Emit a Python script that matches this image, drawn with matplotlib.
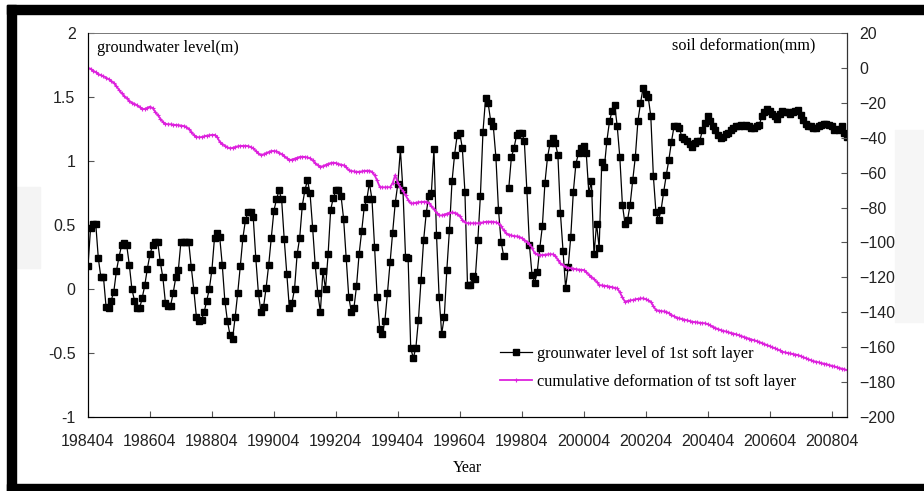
import numpy as np
import matplotlib.pyplot as plt
from matplotlib.patches import Rectangle

# monthly groundwater level (m), 198404 .. 200810, one nan where a month is missing
groundwater = [
	0.18, 0.48, 0.51, 0.51, 0.24, 0.09, 0.09, -0.14, -0.15, -0.09, -0.02, 0.14,
	0.25, 0.34, 0.36, 0.34, 0.19, 0.00, -0.09, -0.15, -0.15, -0.07, 0.03, 0.16,
	0.27, 0.34, 0.37, 0.37, 0.21, 0.09, -0.11, -0.13, -0.13, -0.03, 0.09, 0.15,
	0.37, 0.37, 0.37, 0.37, 0.17, -0.01, -0.22, -0.25, -0.24, -0.18, -0.09, 0.00,
	0.15, 0.40, 0.44, 0.41, 0.19, -0.09, -0.25, -0.36, -0.39, -0.22, -0.03, 0.18,
	0.40, 0.54, 0.60, 0.60, 0.56, 0.24, -0.03, -0.18, -0.14, 0.01, 0.19, 0.40,
	0.61, 0.70, 0.77, 0.70, 0.39, 0.12, -0.15, -0.11, 0.00, 0.27, 0.40, 0.65,
	0.77, 0.85, 0.75, 0.48, 0.19, -0.03, -0.18, 0.14, 0.00, 0.27, 0.62, 0.71,
	0.77, 0.77, 0.73, 0.55, 0.24, -0.06, -0.18, -0.15, 0.02, 0.27, 0.45, 0.64,
	0.70, 0.83, 0.70, 0.33, -0.06, -0.31, -0.35, -0.25, -0.03, 0.21, 0.44, 0.67,
	0.82, 1.09, 0.77, 0.25, 0.24, -0.46, -0.54, -0.46, -0.24, 0.07, 0.38, 0.59,
	0.73, 0.75, 1.09, 0.42, -0.06, -0.35, -0.22, 0.15, 0.46, 0.84, 1.05, 1.20,
	1.22, 1.10, 0.76, 0.03, 0.03, 0.10, 0.08, 0.38, 0.73, 1.23, 1.49, 1.45,
	1.31, 1.27, 1.03, 0.62, 0.37, 0.26, np.nan, 0.79, 1.03, 1.10, 1.20, 1.22,
	1.22, 1.16, 0.77, 0.34, 0.11, 0.05, 0.13, 0.32, 0.49, 0.83, 1.03, 1.14,
	1.18, 1.14, 1.05, 0.59, 0.30, 0.01, 0.17, 0.41, 0.76, 0.98, 1.06, 1.10,
	1.12, 1.06, 0.75, 0.84, 0.27, 0.51, 0.32, 0.99, 0.95, 1.16, 1.31, 1.39,
	1.44, 1.27, 1.03, 0.66, 0.51, 0.54, 0.66, 0.85, 1.03, 1.31, 1.45, 1.57,
	1.52, 1.50, 1.35, 0.88, 0.60, 0.54, 0.62, 0.76, 0.89, 1.01, 1.15, 1.27,
	1.27, 1.26, 1.19, 1.17, 1.16, 1.13, 1.11, 1.14, 1.16, 1.16, 1.24, 1.30,
	1.35, 1.31, 1.27, 1.24, 1.20, 1.18, 1.19, 1.21, 1.22, 1.24, 1.26, 1.27,
	1.27, 1.28, 1.27, 1.28, 1.27, 1.26, 1.26, 1.27, 1.28, 1.35, 1.38, 1.41,
	1.39, 1.37, 1.35, 1.33, 1.37, 1.39, 1.38, 1.38, 1.37, 1.38, 1.39, 1.40,
	1.36, 1.32, 1.29, 1.27, 1.27, 1.26, 1.26, 1.27, 1.28, 1.29, 1.29, 1.28,
	1.27, 1.24, 1.25, 1.24, 1.27, 1.22, 1.19,
]

# monthly cumulative deformation (mm), same months
deformation = [
	0, -0.5, -1.5, -2.5, -3.5, -4.2, -4.8, -5.5, -6.5, -7.5, -8.5, -10.5,
	-12.5, -14.5, -16, -17.5, -18.8, -20, -20.5, -21.5, -22.5, -23.5, -23.5, -22.8,
	-22.2, -23, -25, -27, -29, -31, -32, -32.3, -32.3, -32.5, -32.7, -32.8,
	-33, -33.3, -33.7, -35, -36.5, -38.5, -39.5, -39.8, -39.6, -39.2, -38.8, -38.6,
	-38.4, -38.4, -39.5, -42.3, -43.5, -44.5, -45.5, -46.1, -45.8, -45.3, -44.9, -44.7,
	-44.7, -44.6, -44.8, -45.3, -46.1, -47.5, -49, -49.9, -49.5, -48.8, -48.2, -47.6,
	-47.6, -47.8, -48.5, -49.5, -50.5, -51.8, -52.8, -52.5, -52, -51.5, -51, -50.9,
	-51, -51.3, -51.8, -53, -54.5, -55.8, -56.6, -56.3, -55.6, -55, -54.5, -54.3,
	-54.5, -55, -55.4, -55.8, -57, -58.5, -59, -59.3, -59.5, -59.5, -59.3, -59,
	-58.9, -58.9, -59.5, -61.4, -64.5, -68.1, -68.4, -68.4, -68.3, -68.4, -66, -61.4,
	-66, -68.5, -70.5, -73, -75.5, -77.6, -77.6, -77.2, -77, -76.8, -76.7, -76.7,
	-77.5, -79, -81, -83, -84.5, -84.5, -84, -83.5, -83, -82.8, -83, -83.5,
	-85, -87, -88.5, -89, -89, -89, -89, -89, -88.8, -88.5, -88.2, -88.1,
	-88.1, -88.2, -88.5, -89, -90.5, -93, -94.8, -95.5, -96, -96.3, -96.5, -96.7,
	-97.5, -98.5, -99.6, -101, -103, -106.2, -106.8, -107.2, -107.2, -107, -106.8, -106.7,
	-106.8, -107.5, -110, -112, -113, -114, -114.5, -114.8, -115, -115.3, -115.5, -115.7,
	-115.8, -117, -118.5, -119.6, -121, -122.5, -124.4, -124.6, -124.8, -125, -125.3, -125.6,
	-126, -126.3, -128.5, -131.5, -133.9, -133.5, -133.2, -133, -132.6, -132.3, -132.1, -132,
	-132.5, -133.2, -134, -136.5, -138.7, -139, -139.3, -139.5, -139.7, -140.5, -141.5, -142.3,
	-143, -143.5, -143.8, -144.2, -144.6, -145, -145.4, -145.6, -145.8, -146, -146.2, -146.3,
	-146.8, -147.5, -148.2, -149, -149.6, -150.2, -150.6, -151, -151.4, -151.8, -152.2, -152.6,
	-153.1, -153.6, -154.1, -154.6, -155.1, -155.6, -156, -156.5, -157, -157.6, -158.2, -158.8,
	-159.4, -160, -160.6, -161.2, -161.9, -162.6, -163, -163.3, -163.6, -163.9, -164.2, -164.5,
	-165.1, -165.7, -166.3, -166.9, -167.5, -168, -168.3, -168.7, -169.1, -169.4, -169.7, -170.2,
	-170.6, -171, -171.5, -171.9, -172.3, -172.7, -173.1,
]

tick_labels = ['198404', '198604', '198804', '199004', '199204', '199404', '199604',
	'199804', '200004', '200204', '200404', '200604', '200804']

months = np.arange(len(groundwater))
tick_pos = np.arange(len(tick_labels)) * 24

serif = ['Liberation Serif', 'DejaVu Serif']
sans = ['Liberation Sans', 'DejaVu Sans']

fig = plt.figure(figsize=(9.24, 4.91), dpi=100)
ax = fig.add_axes([88/924, 74/491, 759/924, 384/491])
ax2 = ax.twinx()

ax.plot(months, groundwater, color='black', lw=0.9, marker='s', ms=4,
	label='grounwater level of 1st soft layer')
ax2.plot(months, deformation, color='#dd22dd', lw=1.3, marker='+', ms=3, mew=0.8,
	label='cumulative deformation of tst soft layer')

ax.set_xlim(0, len(groundwater) - 1)
ax.set_ylim(-1, 2)
ax2.set_ylim(-200, 20)

ax.set_xticks(tick_pos)
ax.set_xticklabels(tick_labels)
ax.set_yticks([-1, -0.5, 0, 0.5, 1, 1.5, 2])
ax.set_yticklabels(['-1', '-0.5', '0', '0.5', '1', '1.5', '2'])
ax2.set_yticks(np.arange(-200, 21, 20))

for a in (ax, ax2):
	a.tick_params(direction='in', length=4, width=0.8, colors='#555555', labelcolor='#222222')
	for lab in a.get_xticklabels() + a.get_yticklabels():
		lab.set_family(sans)
		lab.set_fontsize(11.5)
ax.tick_params(axis='x', pad=12)
ax.tick_params(axis='y', pad=9)
ax2.tick_params(axis='y', pad=9)

ax.spines['top'].set_color('#777777')
ax.spines['top'].set_linewidth(0.7)
ax2.spines['top'].set_visible(False)
ax.spines['left'].set_color('#222222')
ax.spines['bottom'].set_color('#222222')
ax2.spines['right'].set_color('#333333')

ax.text(0.012, 0.96, 'groundwater level(m)', transform=ax.transAxes, family=serif,
	fontsize=11.7, va='center', ha='left')
ax2.text(0.958, 0.968, 'soil deformation(mm)', transform=ax.transAxes, family=serif,
	fontsize=11.7, va='center', ha='right')
ax.set_xlabel('Year', family=serif, fontsize=11.5, labelpad=8)

h1, l1 = ax.get_legend_handles_labels()
h2, l2 = ax2.get_legend_handles_labels()
ax2.legend(h1 + h2, l1 + l2, loc='center left', bbox_to_anchor=(0.523, 0.128),
	frameon=False, prop={'family': serif, 'size': 11.7}, handlelength=2.0,
	handletextpad=0.3, labelspacing=0.7)

# black frame and faint grey patches of the scanned picture
W, H = 924., 491.
fig.add_artist(Rectangle((7/W, 1 - 14/H), 1, 9/H, transform=fig.transFigure, color='black', zorder=5))
fig.add_artist(Rectangle((7/W, 0), 9/W, 1 - 5/H, transform=fig.transFigure, color='black', zorder=5))
fig.add_artist(Rectangle((7/W, 0), 1, 7/H, transform=fig.transFigure, color='black', zorder=5))
fig.add_artist(Rectangle((895/W, 1 - 322/H), 29/W, 192/H, transform=fig.transFigure, color='#f6f6f6', zorder=0))
fig.add_artist(Rectangle((17/W, 1 - 268/H), 23/W, 81/H, transform=fig.transFigure, color='#f4f4f4', zorder=0))

fig.savefig('out.png', dpi=100)
